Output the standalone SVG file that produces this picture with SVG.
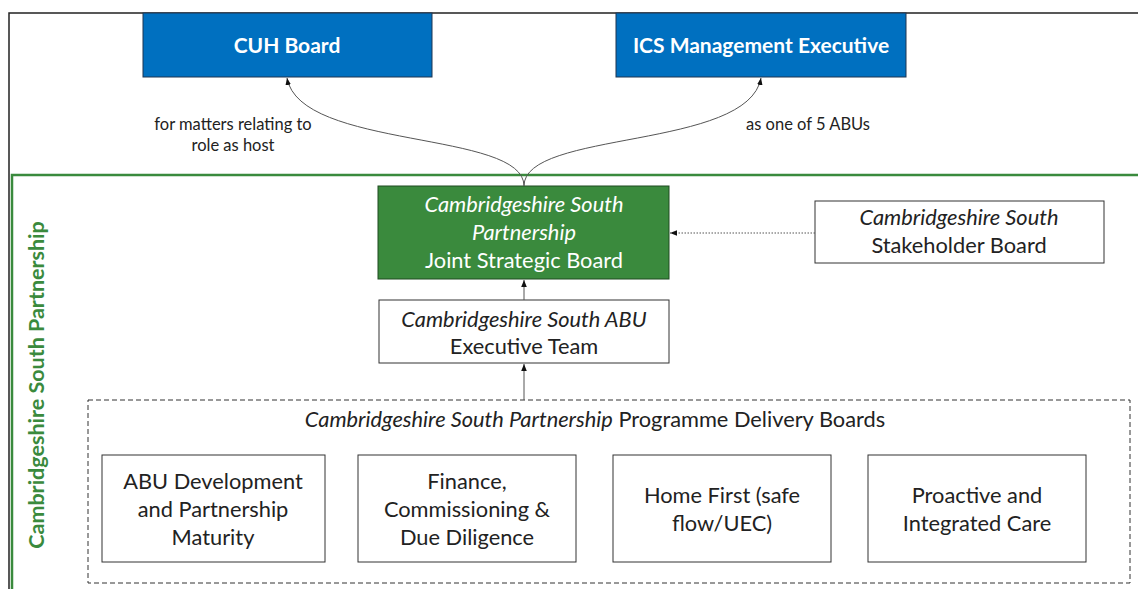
<svg xmlns="http://www.w3.org/2000/svg" width="1138" height="589" viewBox="0 0 1138 589">
<style>
text{font-family:Lato,"Open Sans","Liberation Sans",sans-serif;font-size:21.8px;fill:#222;text-anchor:middle}
.blue rect{fill:#0070c0;stroke:#1f3550;stroke-width:1}
.blue text{fill:#fff;font-weight:bold;font-size:21px}
.wbox rect{fill:#fff;stroke:#333;stroke-width:1}
.green rect{fill:#3a8a3d;stroke:#1f4a21;stroke-width:1}
.green text{fill:#fff}
.it{font-style:italic}
.lbl{font-size:16.5px}
.conn{fill:none;stroke:#555;stroke-width:1}
</style>
<defs>
<marker id="ah" viewBox="0 0 10 10" refX="10" refY="5" markerWidth="7" markerHeight="7" orient="auto"><path d="M0,1 L10,5 L0,9 z" fill="#111"/></marker>
</defs>
<rect x="0" y="0" width="1138" height="589" fill="#fff"/>
<g id="frame">
<rect x="9" y="13" width="1140" height="590" fill="none" stroke="#222" stroke-width="1.5"/>
<rect x="12" y="175" width="1140" height="430" fill="none" stroke="#3a8a3d" stroke-width="2.5"/>
<text x="37" y="385" transform="rotate(-90 37 385)" style="fill:#3a8a3d;font-weight:bold;font-size:21.5px" dy="7">Cambridgeshire South Partnership</text>
</g>
<g id="cuh" class="blue"><rect x="143" y="13" width="289" height="64"/><text x="287" y="53">CUH Board</text></g>
<g id="ics" class="blue"><rect x="616" y="13" width="290" height="64"/><text x="761" y="53">ICS Management Executive</text></g>
<g id="jsb" class="green"><rect x="378" y="186" width="291" height="93"/>
<text x="524" y="212" class="it">Cambridgeshire South</text>
<text x="524" y="240" class="it">Partnership</text>
<text x="524" y="268">Joint Strategic Board</text></g>
<g id="stakeholder" class="wbox"><rect x="815" y="201" width="289" height="62"/>
<text x="959" y="225" class="it">Cambridgeshire South</text>
<text x="959" y="253">Stakeholder Board</text></g>
<g id="exec" class="wbox"><rect x="379" y="300" width="290" height="63"/>
<text x="524" y="327" class="it">Cambridgeshire South ABU</text>
<text x="524" y="354">Executive Team</text></g>
<g id="pdb"><rect x="88" y="400" width="1042" height="183" fill="none" stroke="#333" stroke-width="1" stroke-dasharray="5,3"/>
<text x="595" y="427"><tspan class="it">Cambridgeshire South Partnership</tspan> Programme Delivery Boards</text></g>
<g id="b1" class="wbox"><rect x="102" y="455" width="223" height="107"/>
<text x="213" y="489">ABU Development</text><text x="213" y="517">and Partnership</text><text x="213" y="545">Maturity</text></g>
<g id="b2" class="wbox"><rect x="358" y="455" width="218" height="107"/>
<text x="467" y="489">Finance,</text><text x="467" y="517">Commissioning &amp;</text><text x="467" y="545">Due Diligence</text></g>
<g id="b3" class="wbox"><rect x="613" y="455" width="218" height="107"/>
<text x="722" y="503">Home First (safe</text><text x="722" y="531">flow/UEC)</text></g>
<g id="b4" class="wbox"><rect x="868" y="455" width="218" height="107"/>
<text x="977" y="503">Proactive and</text><text x="977" y="531">Integrated Care</text></g>
<g id="connectors">
<path class="conn" d="M524,186 C524,130 300,150 287,78" marker-end="url(#ah)"/>
<path class="conn" d="M524,186 C524,130 748,150 761,78" marker-end="url(#ah)"/>
<path class="conn" d="M815,233 L670,233" stroke-dasharray="1.5,1.5" marker-end="url(#ah)"/>
<path class="conn" d="M524,300 L524,280" marker-end="url(#ah)"/>
<path class="conn" d="M524,400 L524,364" marker-end="url(#ah)"/>
<text x="233" y="130" class="lbl">for matters relating to</text>
<text x="233" y="151" class="lbl">role as host</text>
<text x="808" y="130" class="lbl">as one of 5 ABUs</text>
</g>
</svg>
